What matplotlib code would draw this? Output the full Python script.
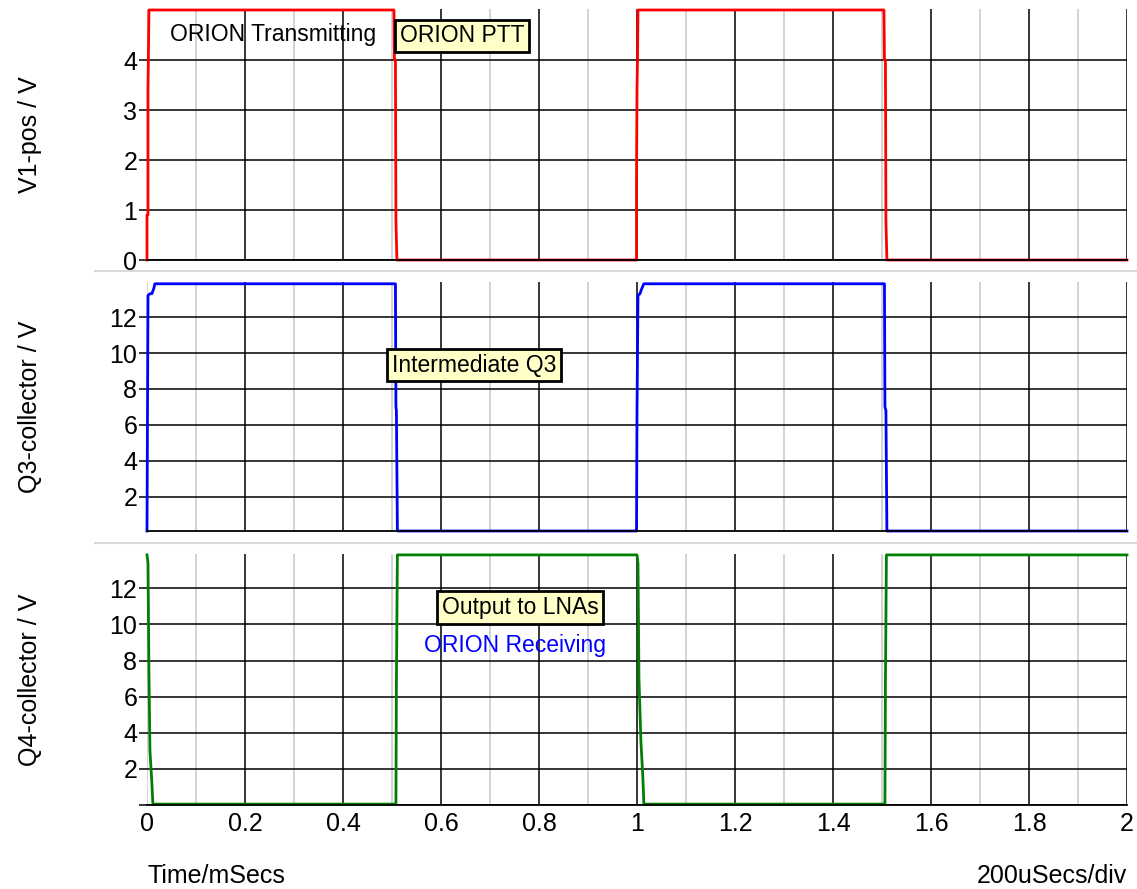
import matplotlib
matplotlib.use("Agg")
import matplotlib.pyplot as plt
from matplotlib.lines import Line2D
import numpy as np

plt.rcParams['font.family'] = ['Liberation Sans', 'DejaVu Sans']

# time in mSecs, voltages
v1_t = [0.0, 0.0, 0.002, 0.002, 0.004, 0.504, 0.505, 0.507, 0.508, 0.510,
        0.998, 0.999, 0.999, 1.0, 1.001, 1.002, 1.504, 1.505, 1.507, 1.508, 1.510, 2.0]
v1_v = [0.0, 0.9, 0.9, 3.4, 5.0, 5.0, 4.0, 4.0, 0.8, 0.0,
        0.0, 0.0, 1.6, 3.4, 4.0, 5.0, 5.0, 4.0, 4.0, 0.8, 0.0, 0.0]

q3_t = [0.0, 0.001, 0.002, 0.006, 0.010, 0.014, 0.016, 0.507, 0.508, 0.509, 0.511,
        0.999, 1.0, 1.002, 1.006, 1.010, 1.014, 1.505, 1.506, 1.508, 1.510, 2.0]
q3_v = [0.1, 6.7, 13.2, 13.3, 13.3, 13.6, 13.85, 13.85, 7.0, 6.8, 0.1,
        0.1, 6.7, 13.2, 13.3, 13.6, 13.85, 13.85, 7.0, 6.8, 0.1, 0.1]

q4_t = [0.0, 0.002, 0.004, 0.006, 0.010, 0.012, 0.508, 0.509, 0.511,
        1.0, 1.002, 1.004, 1.008, 1.012, 1.014, 1.506, 1.507, 1.509, 2.0]
q4_v = [13.85, 13.4, 7.2, 3.0, 1.2, 0.05, 0.05, 6.8, 13.85,
        13.85, 13.4, 7.0, 3.5, 1.5, 0.05, 0.05, 6.8, 13.85, 13.85]

x_ticks = [0, 0.2, 0.4, 0.6, 0.8, 1, 1.2, 1.4, 1.6, 1.8, 2]
x_tick_labels = ['0', '0.2', '0.4', '0.6', '0.8', '1', '1.2', '1.4', '1.6', '1.8', '2']

fig = plt.figure(figsize=(11.37, 8.89), dpi=100)

left = 147 / 1137
width = 980 / 1137
ax1 = fig.add_axes([left, 1 - 260 / 889, width, 251 / 889])
ax2 = fig.add_axes([left, 1 - 531 / 889, width, 249 / 889])
ax3 = fig.add_axes([left, 1 - 805 / 889, width, 251 / 889])

fs = 18
afs = 16.5


def style(ax, ylim, yticks, ylabels):
    ax.set_xlim(0, 2)
    ax.set_ylim(*ylim)
    ax.set_xticks(x_ticks)
    ax.set_xticks(np.arange(0.1, 2.0, 0.2), minor=True)
    ax.set_yticks(yticks)
    ax.set_yticklabels(ylabels)
    ax.grid(which='major', axis='both', color='black', linewidth=1.1)
    ax.grid(which='minor', axis='x', color='#d0d0d0', linewidth=1.3)
    ax.get_xgridlines()[0].set_color('#c8c8c8')
    ax.set_axisbelow(True)
    for s in ['top', 'right', 'left']:
        ax.spines[s].set_visible(False)
    ax.spines['bottom'].set_color('black')
    ax.spines['bottom'].set_linewidth(1.3)
    ax.tick_params(axis='y', which='major', length=6, width=1.1, labelsize=fs, pad=1)
    ax.tick_params(axis='x', which='both', length=0, labelsize=fs, pad=5)
    ax.tick_params(axis='y', which='minor', length=0)


style(ax1, (0, 5.02), [0, 1, 2, 3, 4], ['0', '1', '2', '3', '4'])
style(ax2, (0.1, 13.95), [2, 4, 6, 8, 10, 12], ['2', '4', '6', '8', '10', '12'])
style(ax3, (0.0, 13.9), [0, 2, 4, 6, 8, 10, 12], ['', '2', '4', '6', '8', '10', '12'])

ax1.tick_params(axis='x', labelbottom=False)
ax2.tick_params(axis='x', labelbottom=False)
ax3.set_xticklabels(x_tick_labels)

ax1.plot(v1_t, v1_v, color='#ff0000', linewidth=2.0, clip_on=False)
ax2.plot(q3_t, q3_v, color='#0000ff', linewidth=2.0, clip_on=False)
ax3.plot(q4_t, q4_v, color='#008000', linewidth=2.0, clip_on=False)

ax1.set_ylabel('V1-pos / V', fontsize=fs)
ax2.set_ylabel('Q3-collector / V', fontsize=fs)
ax3.set_ylabel('Q4-collector / V', fontsize=fs)
for ax in [ax1, ax2, ax3]:
    ax.yaxis.set_label_coords(-0.107, 0.5)

box = dict(boxstyle='square,pad=0.2', facecolor='#ffffc8', edgecolor='black', linewidth=2)
ax1.text(0.047, 4.52, 'ORION Transmitting', fontsize=afs, ha='left', va='center')
ax1.text(0.643, 4.48, 'ORION PTT', fontsize=afs, ha='center', va='center', bbox=box)
ax2.text(0.667, 9.33, 'Intermediate Q3', fontsize=afs, ha='center', va='center', bbox=box)
ax3.text(0.761, 10.94, 'Output to LNAs', fontsize=afs, ha='center', va='center', bbox=box)
ax3.text(0.751, 8.84, 'ORION Receiving', fontsize=afs, ha='center', va='center', color='#0000ff')

# thin separators between the panels
for yp in [271, 543]:
    fig.add_artist(Line2D([95 / 1137, 1.0], [1 - yp / 889, 1 - yp / 889],
                          color='#d8d8d8', linewidth=1.5))

fig.text(148 / 1137, 1 - 876 / 889, 'Time/mSecs', fontsize=fs, ha='left', va='center')
fig.text(1127 / 1137, 1 - 876 / 889, '200uSecs/div', fontsize=fs, ha='right', va='center')

fig.savefig('out.png', dpi=100)
